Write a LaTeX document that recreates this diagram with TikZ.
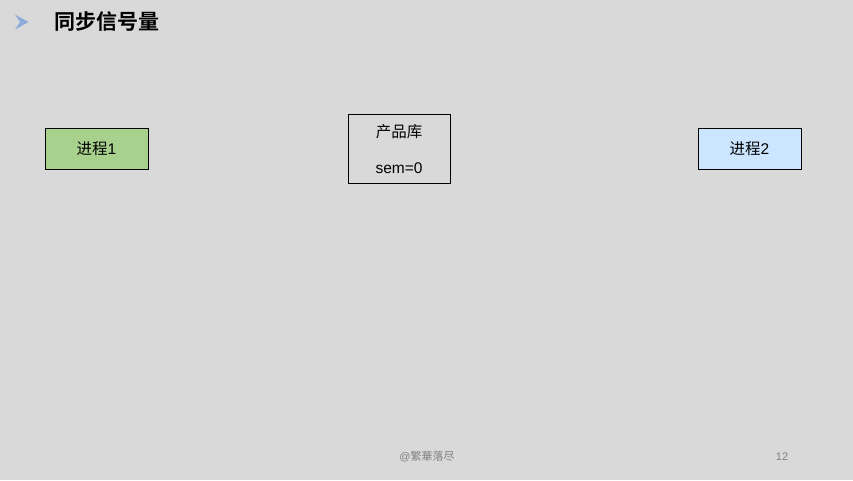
\documentclass[tikz,border=0pt]{standalone}
\usepackage{fontspec}
\setmainfont{Liberation Sans}
\newfontfamily\cjk{Noto Sans CJK SC}[BoldFont={Noto Sans CJK SC Bold}]
\definecolor{slidegray}{RGB}{217, 217, 217}
\definecolor{procgreen}{RGB}{169, 209, 142}
\definecolor{procblue}{RGB}{204, 230, 255}
\definecolor{bulletblue}{RGB}{142, 170, 219}
\definecolor{footgray}{RGB}{128, 128, 128}
\usetikzlibrary{positioning}

\begin{document}
\begin{tikzpicture}[x=1pt, y=-1pt,
  procbox/.style={draw=black, line width=0.75pt, minimum width=103pt, minimum height=41pt, inner sep=0pt, font=\fontsize{15.5}{18}\selectfont},
  foot/.style={text=footgray, font=\fontsize{11}{13}\selectfont}]
  % Background
  \fill[slidegray] (0, 0) rectangle (853, 480);
  \useasboundingbox (0, 0) rectangle (853, 480);

  % Title
  \fill[bulletblue] (15, 14.5) -- (28.5, 22) -- (15, 29.5) -- (20, 22) -- cycle;
  \node[anchor=west, inner sep=0pt, font=\fontsize{21}{25}\selectfont] (title) at (54, 22) {\cjk\bfseries 同步信号量};

  % Processes
  \node[procbox, fill=procgreen] (proc1) at (96.5, 148.5) {{\cjk 进程}1};
  \node[procbox, fill=procblue] (proc2) at (749.5, 148.5) {{\cjk 进程}2};

  % Store
  \node[procbox, minimum width=102pt, minimum height=69pt, align=center] (store) at (399, 149) {
    {\cjk 产品库}\\[18pt]
    sem=0
  };

  % Bottom
  \node[foot] (author) at (427, 457) {@{\cjk 繁華落尽}};
  \node[foot] (page) at (782, 457) {12};
\end{tikzpicture}
\end{document}
